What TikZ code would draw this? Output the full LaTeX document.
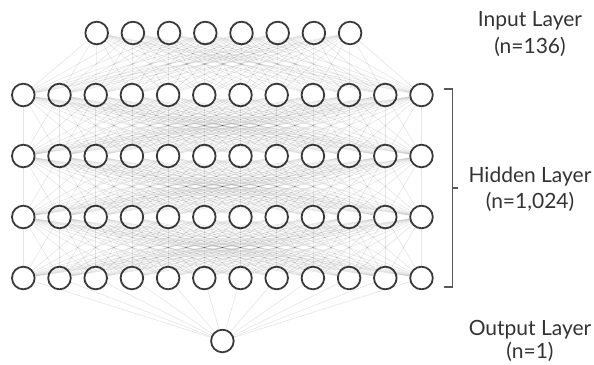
\documentclass[tikz,border=0pt]{standalone}
\usepackage{fontspec}
\setmainfont{Lato}
\definecolor{ringcol}{HTML}{3A3A3A}
\definecolor{textcol}{HTML}{333333}
\tikzset{
  neuron/.style={circle, draw=ringcol, fill=white, line width=1.8pt,
                 minimum size=22.6pt, inner sep=0pt},
  synapse/.style={draw=black, line width=0.6pt, draw opacity=0.10},
  layerlabel/.style={anchor=base, text=textcol, font=\fontsize{21}{24}\selectfont},
  brace/.style={draw=ringcol!85, line width=1.3pt}
}
\begin{document}
\begin{tikzpicture}[x=1pt, y=-1pt]
\useasboundingbox (0,0) rectangle (594,364);

% input layer: 8 units
\foreach \i in {0,...,7}
  \node[neuron] (in\i) at ({96.7+36.2*\i},33) {};

% four hidden rows of 12 units
\foreach \r/\yy in {1/95,2/156,3/217,4/278}
  \foreach \j in {0,...,11}
    \node[neuron] (h\r-\j) at ({23.3+36.2*\j},\yy) {};

% single output unit
\node[neuron] (out) at (222.4,341) {};

% connections
\foreach \i in {0,...,7}
  \foreach \j in {0,...,11}
    \draw[synapse] (in\i) -- (h1-\j);
\foreach \r/\s in {1/2,2/3,3/4}
  \foreach \i in {0,...,11}
    \foreach \j in {0,...,11}
      \draw[synapse] (h\r-\i) -- (h\s-\j);
\foreach \j in {0,...,11}
  \draw[synapse] (h4-\j) -- (out);

% bracket around the hidden rows
\coordinate (bt) at (452.5,89);
\coordinate (bb) at (452.5,287);
\coordinate (bm) at (452.5,188);
\draw[brace] ([xshift=-9pt]bt) -- (bt) -- (bb) -- ([xshift=-9pt]bb);
\draw[brace] (bm) -- ([xshift=5pt]bm);

% labels
\node[layerlabel] (lin1) at (530,27) {Input Layer};
\node[layerlabel] (lin2) at (530,53) {(n=136)};
\node[layerlabel] (lhid1) at (530,182) {Hidden Layer};
\node[layerlabel] (lhid2) at (530,208) {(n=1,024)};
\node[layerlabel] (lout1) at (530,335) {Output Layer};
\node[layerlabel] (lout2) at (530,358) {(n=1)};
\end{tikzpicture}
\end{document}
